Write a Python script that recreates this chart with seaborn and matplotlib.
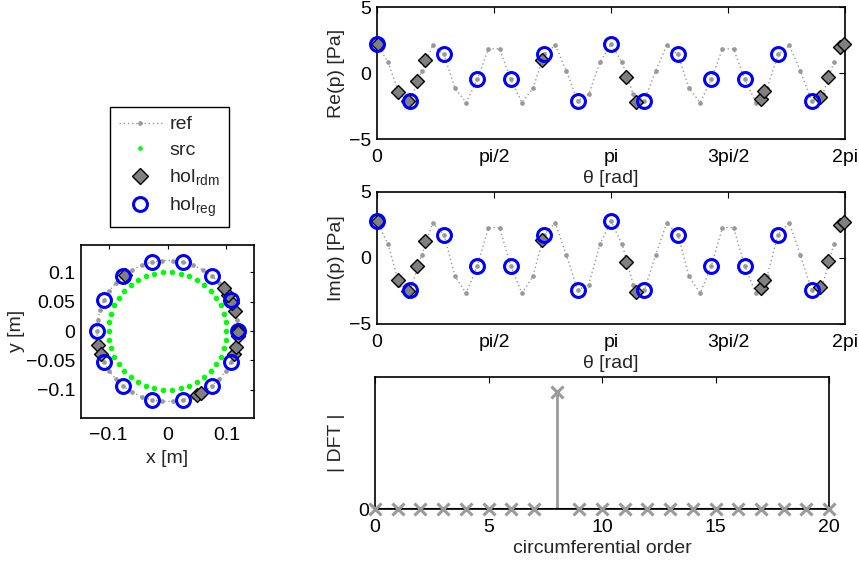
import numpy as np
import matplotlib
matplotlib.use("Agg")
import matplotlib.pyplot as plt
import seaborn as sns
from matplotlib.lines import Line2D

# ---------------- data ----------------
N_REF = 42                      # reference field sample count
N_SRC = 42                      # source ring sample count
N_REG = 14                      # regular holography mics
R_REF = 0.12                    # [m]
R_SRC = 0.10                    # [m]
R_HOL = 0.12                    # [m]

ref_re = [2.19, 0.80, -1.62, -2.11, 0.15, 2.09, 1.41, -1.16, -2.24, -0.48, 1.83,
          1.83, -0.48, -2.24, -1.16, 1.41, 2.09, 0.15, -2.11, -1.62, 0.80,
          2.19, 0.80, -1.62, -2.11, 0.15, 2.09, 1.41, -1.16, -2.24, -0.48, 1.83,
          1.83, -0.48, -2.24, -1.16, 1.41, 2.09, 0.15, -2.11, -1.62, 0.80]
ref_im = [2.78, 1.03, -2.02, -2.42, 0.21, 2.66, 1.78, -1.38, -2.66, -0.61, 2.30,
          2.30, -0.61, -2.66, -1.38, 1.78, 2.66, 0.21, -2.42, -2.02, 1.03,
          2.78, 1.03, -2.02, -2.42, 0.21, 2.66, 1.78, -1.38, -2.66, -0.61, 2.30,
          2.30, -0.61, -2.66, -1.38, 1.78, 2.66, 0.21, -2.42, -2.02, 1.03]

reg_re = [2.19, -2.11, 1.41, -0.48, -0.48, 1.41, -2.11,
          2.19, -2.11, 1.41, -0.48, -0.48, 1.41, -2.11]
reg_im = [2.78, -2.42, 1.78, -0.61, -0.61, 1.78, -2.42,
          2.78, -2.42, 1.78, -0.61, -0.61, 1.78, -2.42]

rdm_theta = [0.01, 0.28, 0.41, 0.54, 0.65, 2.22, 3.34, 3.48, 5.15, 5.20, 5.95, 6.06, 6.21, 6.265]
rdm_re = [2.19, -1.41, -2.11, -0.58, 0.98, 1.00, -0.33, -2.16, -1.96, -1.33, -1.83, -0.33, 1.98, 2.19]
rdm_im = [2.78, -1.64, -2.52, -0.63, 1.31, 1.39, -0.30, -2.60, -2.27, -1.64, -2.20, -0.25, 2.53, 2.73]

dft_order = list(range(21))
dft_mag = [0, 0, 0, 0, 0, 0, 0, 0, 3.54, 0, 0, 0, 0, 0, 0, 0, 0, 0, 0, 0, 0]

theta_ticks_lbl = ["0", "pi/2", "pi", "3pi/2", "2pi"]

# ------------- geometry (sampling grids) -------------
ref_theta = np.arange(N_REF) * 2 * np.pi / N_REF
src_theta = np.arange(N_SRC) * 2 * np.pi / N_SRC
reg_theta = np.arange(N_REG) * 2 * np.pi / N_REG
rdm_theta = np.array(rdm_theta)

# ---------------- style ----------------
FS = 14
sns.set_theme(style="white")
plt.rcParams['font.family'] = ['Liberation Sans', 'DejaVu Sans']
plt.rcParams['mathtext.fontset'] = 'custom'
plt.rcParams['mathtext.rm'] = 'Liberation Sans'
plt.rcParams['mathtext.it'] = 'Liberation Sans'
plt.rcParams['font.size'] = FS
plt.rcParams['axes.unicode_minus'] = True

GRAY = "#9a9a9a"
DGRAY = "#808080"
BLUE = "#0000ff"
GREEN = "#00ff00"

W, H = 859, 561
fig = plt.figure(figsize=(W / 100, H / 100), dpi=100)
fig.patch.set_facecolor("white")


def px_axes(x0, y0, x1, y1):
    return fig.add_axes([x0 / W, 1 - y1 / H, (x1 - x0) / W, (y1 - y0) / H])


def style_axes(ax, ticklen=4):
    for s in ax.spines.values():
        s.set_color("black")
        s.set_linewidth(1.2)
        s.set_visible(True)
    ax.tick_params(direction="in", top=True, right=True, length=ticklen,
                   width=0.8, colors="black", labelsize=FS)
    ax.tick_params(axis="x", pad=7)
    ax.tick_params(axis="y", pad=4)
    ax.set_facecolor("white")
    ax.grid(False)


dot_ls = (0, (1, 2))

# ---------------- left geometry plot ----------------
axg = px_axes(81, 244, 254, 418)
style_axes(axg, ticklen=3)
axg.plot(R_REF * np.cos(np.append(ref_theta, ref_theta[0])),
         R_REF * np.sin(np.append(ref_theta, ref_theta[0])),
         linestyle=dot_ls, color=GRAY, lw=1, marker="o", ms=3.4, mec="none", mfc=GRAY, zorder=1)
sns.scatterplot(x=R_SRC * np.cos(src_theta), y=R_SRC * np.sin(src_theta), ax=axg,
                color=GREEN, s=16, linewidth=0, zorder=2)
sns.scatterplot(x=R_HOL * np.cos(rdm_theta), y=R_HOL * np.sin(rdm_theta), ax=axg,
                marker="D", color=DGRAY, edgecolor="black", s=50, linewidth=1.0, zorder=3)
axg.plot(R_HOL * np.cos(reg_theta), R_HOL * np.sin(reg_theta), ls="none", marker="o",
         ms=10, mfc="none", mec=BLUE, mew=2.2, zorder=4)
axg.set_xlim(-0.147, 0.147)
axg.set_ylim(-0.147, 0.147)
axg.set_aspect("equal", adjustable="box")
axg.set_xticks([-0.1, 0, 0.1])
axg.set_xticklabels(["\u22120.1", "0", "0.1"])
axg.set_yticks([-0.1, -0.05, 0, 0.05, 0.1])
axg.set_yticklabels(["\u22120.1", "\u22120.05", "0", "0.05", "0.1"])
axg.set_xlabel("x [m]", fontsize=FS, labelpad=4)
axg.set_ylabel("y [m]", fontsize=FS, labelpad=1)

# legend
handles = [
    Line2D([], [], color=GRAY, linestyle=dot_ls, lw=1, marker="o", ms=3.4, mec="none", mfc=GRAY),
    Line2D([], [], color=GREEN, linestyle="none", marker="o", ms=3.4, mec="none"),
    Line2D([], [], color=DGRAY, linestyle="none", marker="D", ms=8.5, mfc=DGRAY, mec="black", mew=1.0),
    Line2D([], [], color=BLUE, linestyle="none", marker="o", ms=10, mfc="none", mec=BLUE, mew=2.2),
]
labels = ["ref", "src", r"hol$_{\rm rdm}$", r"hol$_{\rm reg}$"]
leg = fig.legend(handles, labels, loc="upper left", bbox_to_anchor=(110 / W, 1 - 107 / H),
                 borderaxespad=0.0,
                 fontsize=FS, frameon=True, fancybox=False, shadow=False, framealpha=1,
                 edgecolor="black", handlelength=2.2, handletextpad=0.4, labelspacing=0.42,
                 borderpad=0.45, numpoints=1)
leg.get_frame().set_linewidth(1.0)

# ---------------- right pressure plots ----------------
theta_ticks = [0, np.pi / 2, np.pi, 3 * np.pi / 2, 2 * np.pi]


def pressure_panel(y0, y1, ref_vals, rdm_vals, reg_vals, ylabel):
    ax = px_axes(377, y0, 845, y1)
    style_axes(ax)
    sns.lineplot(x=ref_theta, y=ref_vals, ax=ax, color=GRAY, lw=1, linestyle=dot_ls,
                 marker="o", markersize=3.4, markeredgecolor="none",
                 estimator=None, sort=False, zorder=1)
    sns.scatterplot(x=rdm_theta, y=rdm_vals, ax=ax, marker="D", color=DGRAY,
                    edgecolor="black", s=50, linewidth=1.0, zorder=3)
    ax.plot(reg_theta, reg_vals, ls="none", marker="o", ms=10, mfc="none",
            mec=BLUE, mew=2.2, zorder=4)
    ax.set_xlim(0, 2 * np.pi)
    ax.set_ylim(-5, 5)
    ax.set_xticks(theta_ticks)
    ax.set_xticklabels(theta_ticks_lbl)
    ax.set_yticks([-5, 0, 5])
    ax.set_yticklabels(["\u22125", "0", "5"])
    ax.set_xlabel("\u03b8 [rad]", fontsize=FS, labelpad=3)
    ax.set_ylabel(ylabel, fontsize=FS, labelpad=3)
    for c in ax.collections:
        c.set_clip_on(False)
    for l in ax.lines:
        l.set_clip_on(False)
    return ax


pressure_panel(7, 139, ref_re, rdm_re, reg_re, "Re(p) [Pa]")
pressure_panel(192, 324, ref_im, rdm_im, reg_im, "Im(p) [Pa]")

# ---------------- DFT panel ----------------
axd = px_axes(375, 377, 829, 509)
style_axes(axd)
axd.vlines(dft_order, 0, dft_mag, color=GRAY, lw=2, zorder=2)
axd.axhline(0, color="black", lw=1.5, zorder=3)
axd.plot(dft_order, dft_mag, ls="none", marker="x", ms=8, mew=2.2, color=GRAY,
         zorder=4, clip_on=False)
axd.set_xlim(0, 20)
axd.set_ylim(0, 4.0)
axd.set_xticks([0, 5, 10, 15, 20])
axd.set_yticks([0])
axd.set_yticklabels(["0"])
axd.set_xlabel("circumferential order", fontsize=FS, labelpad=3)
axd.set_ylabel("| DFT |", fontsize=FS, labelpad=10)

fig.savefig("out.png", dpi=100, facecolor="white")
